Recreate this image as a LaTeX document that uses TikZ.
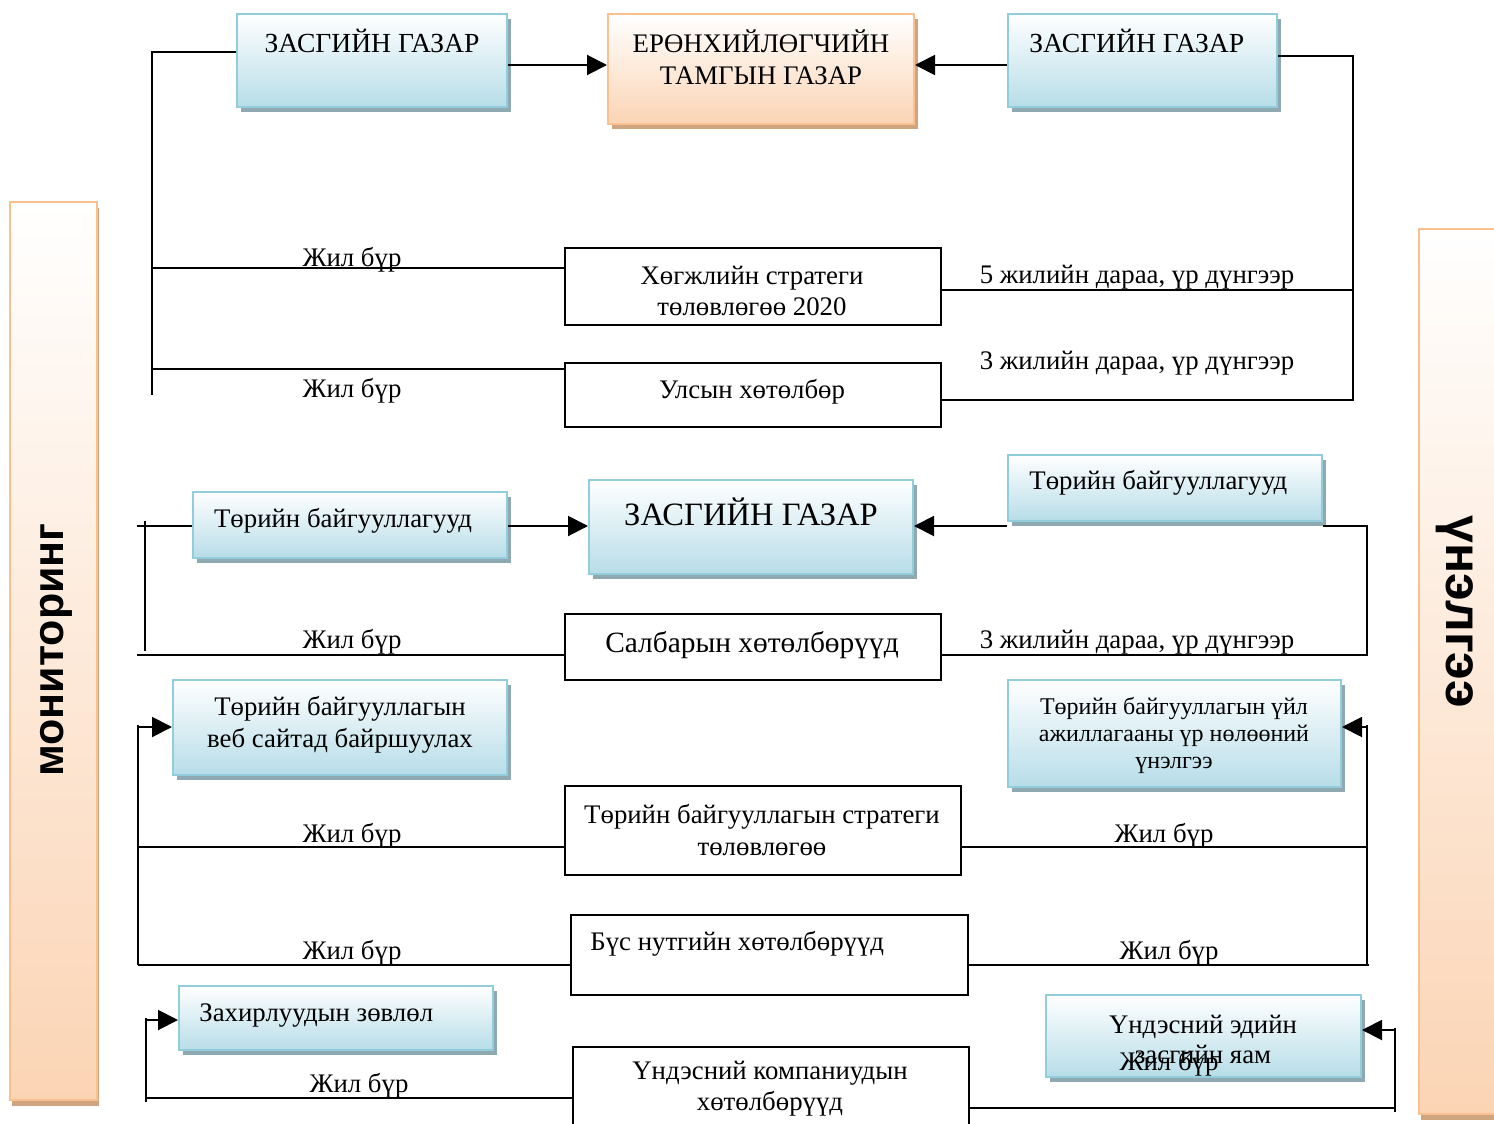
\documentclass[tikz,border=0pt]{standalone}
\usepackage{fontspec}
\setmainfont{Liberation Serif}
\newfontfamily\sidefont{Liberation Sans}
\usetikzlibrary{arrows.meta,shadows}
\definecolor{bblue}{HTML}{B7DDE8}
\definecolor{bbord}{HTML}{92CDDC}
\definecolor{bshad}{HTML}{8EA9B1}
\definecolor{opeach}{HTML}{FBD4B4}
\definecolor{obord}{HTML}{FAC090}
\definecolor{oshad}{HTML}{CFA57F}
\tikzset{
  bluebox/.style={draw=bbord, line width=1pt, top color=white, bottom color=bblue,
    general shadow={fill=bshad, shadow xshift=2pt, shadow yshift=-2.5pt}, inner sep=0pt},
  orangebox/.style={draw=obord, line width=1pt, top color=white, bottom color=opeach,
    general shadow={fill=oshad, shadow xshift=2pt, shadow yshift=-2.5pt}, inner sep=0pt},
  sidebar/.style={draw=obord, line width=1pt, top color=white, bottom color=opeach,
    general shadow={fill=oshad, shadow xshift=1pt, shadow yshift=-3pt}, inner sep=0pt},
  plainbox/.style={draw=black, line width=1pt, fill=white, inner sep=0pt},
  txt/.style={font=\fontsize{13.4}{16}\selectfont, align=center, inner sep=0pt},
  captxt/.style={font=\fontsize{13.8}{16}\selectfont, align=center, inner sep=0pt},
  lbl/.style={font=\fontsize{13.4}{16}\selectfont, inner sep=0pt, anchor=base},
  sidetxt/.style={font=\sidefont\bfseries\fontsize{21.5}{21.5}\selectfont, inner sep=0pt},
  conn/.style={draw=black, line width=1pt},
  arr/.style={conn, -{Triangle[length=10pt,width=10pt]}},
}
\begin{document}
\begin{tikzpicture}[x=0.5pt,y=-0.5pt]
\useasboundingbox (0,0) rectangle (1494,1124);
\clip (0,0) rectangle (1494,1124);

% side bars
\node[sidebar, minimum width=43.5pt, minimum height=449pt] (lbar) at (53.5,651) {};
\node[sidebar, minimum width=45pt, minimum height=442.5pt] (rbar) at (1464,671.5) {};
\node[sidetxt, rotate=90] (mon) at (56,650) {мониторинг};
\node[sidetxt, rotate=-90, font=\sidefont\bfseries\fontsize{25}{25}\selectfont] (une) at (1455,612) {үнэлгээ};

% top row
\node[bluebox, minimum width=135pt, minimum height=46.5pt] (A) at (372,60.5) {};
\node[captxt] (At) at (372,41) {ЗАСГИЙН ГАЗАР};
\node[orangebox, minimum width=153pt, minimum height=55pt] (B) at (761,69) {};
\node[txt] (Bt) at (761,57) {ЕРӨНХИЙЛӨГЧИЙН\\ТАМГЫН ГАЗАР};
\node[bluebox, minimum width=134.5pt, minimum height=46.5pt] (C) at (1142.5,60.5) {};
\node[captxt, anchor=west] (Ct) at (1029,41) {ЗАСГИЙН ГАЗАР};

\node[plainbox, minimum width=188pt, minimum height=38.5pt] (D) at (753,286.5) {};
\node[txt, font=\fontsize{13.4}{15.5}\selectfont] (Dt) at (752,291) {Хөгжлийн стратеги\\төлөвлөгөө 2020};
\node[plainbox, minimum width=188pt, minimum height=32pt] (E) at (753,395) {};
\node[txt] (Et) at (752,392) {Улсын хөтөлбөр};

\draw[arr] (A.east |- 0,65) -- (B.west |- 0,65);
\draw[arr] (C.west |- 0,65) -- (B.east |- 0,65);
\draw[conn] (A.west |- 0,52) -- (152,52) -- (152,395);
\draw[conn] (152,268) -- (D.west |- 0,268);
\draw[conn] (152,369) -- (E.west |- 0,369);
\draw[conn] (C.east |- 0,56) -- (1353,56) -- (1353,400) -- (E.east |- 0,400);
\draw[conn] (1353,290) -- (D.east |- 0,290);

\node[lbl] (l1) at (352,266) {Жил бүр};
\node[lbl] (l2) at (352,397) {Жил бүр};
\node[lbl] (l3) at (1137,283) {5 жилийн дараа, үр дүнгээр};
\node[lbl] (l4) at (1137,369) {3 жилийн дараа, үр дүнгээр};

% middle row
\node[bluebox, minimum width=157pt, minimum height=33pt] (F) at (350,525) {};
\node[txt] (Ft) at (343,521) {Төрийн байгууллагууд};
\node[bluebox, minimum width=162pt, minimum height=47pt] (G) at (751,527) {};
\node[txt, font=\fontsize{16.3}{18}\selectfont] (Gt) at (751,512) {ЗАСГИЙН ГАЗАР};
\node[bluebox, minimum width=157pt, minimum height=33pt] (H) at (1165,488) {};
\node[txt, anchor=west] (Ht) at (1029,483) {Төрийн байгууллагууд};
\node[plainbox, minimum width=188pt, minimum height=33pt] (I) at (753,647) {};
\node[txt, font=\fontsize{14.7}{17}\selectfont] (It) at (752,645) {Салбарын хөтөлбөрүүд};

\draw[arr] (F.east |- 0,526) -- (G.west |- 0,526);
\draw[arr] (H.south west |- 0,526) -- (G.east |- 0,526);
\draw[conn] (137,526) -- (F.west |- 0,526);
\draw[conn] (145,521) -- (145,651);
\draw[conn] (137,655) -- (I.west |- 0,655);
\draw[conn] (H.south east |- 0,526) -- (1367,526) -- (1367,655) -- (I.east |- 0,655);

\node[lbl] (l5) at (352,648) {Жил бүр};
\node[lbl] (l6) at (1137,648) {3 жилийн дараа, үр дүнгээр};

% lower row
\node[bluebox, minimum width=167pt, minimum height=47.5pt] (J) at (340,727.5) {};
\node[txt] (Jt) at (340,725) {Төрийн байгууллагын\\веб сайтад байршуулах};
\node[bluebox, minimum width=166.5pt, minimum height=53.5pt] (K) at (1174.5,733.5) {};
\node[txt, font=\fontsize{12}{13.5}\selectfont] (Kt) at (1174,735) {Төрийн байгууллагын үйл\\ажиллагааны үр нөлөөний\\үнэлгээ};
\node[plainbox, minimum width=198pt, minimum height=44.5pt] (L) at (763,830.5) {};
\node[txt] (Lt) at (762,830) {Төрийн байгууллагын стратеги\\төлөвлөгөө};
\node[plainbox, minimum width=198.5pt, minimum height=40pt] (M) at (769.5,955) {};
\node[txt, anchor=west] (Mt) at (590,944) {Бүс нутгийн хөтөлбөрүүд};

\draw[arr] (138,727) -- (J.west |- 0,727);
\draw[conn] (138,725) -- (138,965);
\draw[conn] (138,847) -- (L.west |- 0,847);
\draw[conn] (138,965) -- (M.west |- 0,965);
\draw[arr] (1367,727) -- (K.east |- 0,727);
\draw[conn] (1367,725) -- (1367,965);
\draw[conn] (L.east |- 0,847) -- (1367,847);
\draw[conn] (M.east |- 0,965) -- (1369,965);

\node[lbl] (l7) at (352,842) {Жил бүр};
\node[lbl] (l8) at (352,959) {Жил бүр};
\node[lbl] (l9) at (1164,842) {Жил бүр};
\node[lbl] (l10) at (1169,959) {Жил бүр};

% bottom row
\node[bluebox, minimum width=157pt, minimum height=32pt] (N) at (336,1018) {};
\node[txt, anchor=west] (Nt) at (199,1016) {Захирлуудын зөвлөл};
\node[bluebox, minimum width=157.5pt, minimum height=41pt] (O) at (1203.5,1036) {};
\node[txt, font=\fontsize{13.4}{15}\selectfont] (Ot) at (1203,1039) {Үндэсний эдийн\\засгийн яам};
\node[plainbox, minimum width=198pt, minimum height=44pt] (P) at (771,1091) {};
\node[txt, font=\fontsize{13.4}{15.5}\selectfont] (Pt) at (770,1089) {Үндэсний компаниудын\\хөтөлбөрүүд};

\draw[arr] (146,1020) -- (N.west |- 0,1020);
\draw[conn] (146,1018) -- (146,1102);
\draw[conn] (146,1098) -- (P.west |- 0,1098);
\draw[arr] (1395,1030) -- (O.east |- 0,1030);
\draw[conn] (1395,1028) -- (1395,1112);
\draw[conn] (P.east |- 0,1108) -- (1395,1108);

\node[lbl] (l11) at (359,1092) {Жил бүр};
\node[lbl] (l12) at (1169,1070) {Жил бүр};
\end{tikzpicture}
\end{document}
